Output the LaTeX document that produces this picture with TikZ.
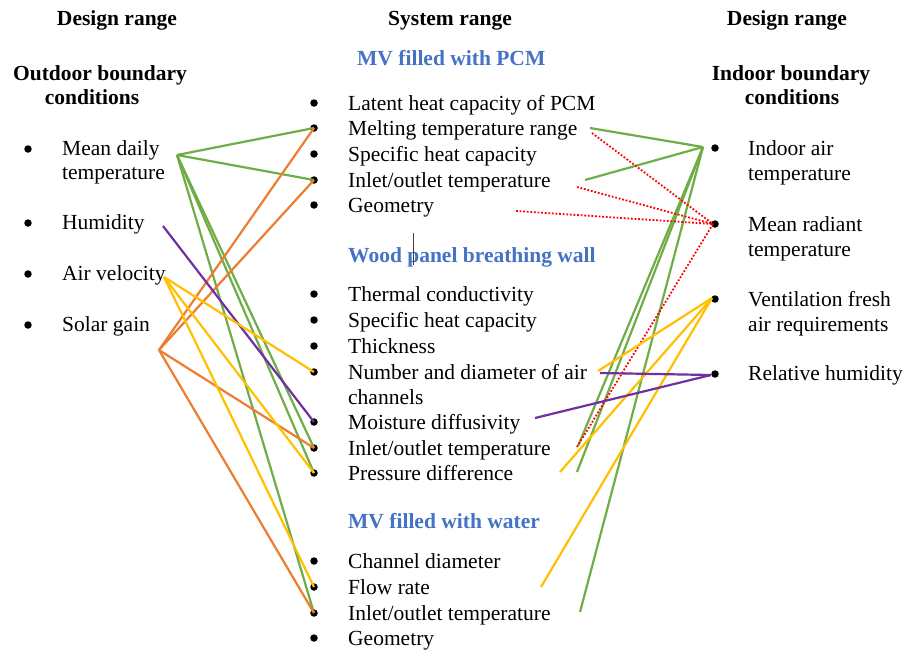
\documentclass[tikz,border=0pt]{standalone}
\usepackage{fontspec}
\setmainfont{Liberation Serif}
\usetikzlibrary{positioning}
\definecolor{lgreen}{HTML}{70AD47}
\definecolor{lorange}{HTML}{ED7D31}
\definecolor{lyellow}{HTML}{FFC000}
\definecolor{lpurple}{HTML}{7030A0}
\definecolor{lred}{HTML}{FF0000}
\definecolor{lblue}{HTML}{4472C4}

\begin{document}
\begin{tikzpicture}[x=1pt, y=-1pt,
  txt/.style={anchor=base west, inner sep=0pt, font=\fontsize{21.5}{25.5}\selectfont},
  hdr/.style={anchor=base, inner sep=0pt, font=\fontsize{21.5}{25.5}\selectfont\bfseries},
  sub/.style={anchor=base west, inner sep=0pt, text=lblue, font=\fontsize{21.5}{25.5}\selectfont\bfseries},
  dot/.style={circle, fill=black, inner sep=0pt, minimum size=7.5pt},
  lnk/.style={line width=2.2pt},
  dotlnk/.style={line width=1.8pt, lred, dash pattern=on 1.8pt off 1.8pt}]
  \useasboundingbox (0,0) rectangle (908,649);
  % headers
  \node[hdr] (ldes) at (117,25) {Design range};
  \node[hdr] (lout1) at (100,80) {Outdoor boundary};
  \node[hdr] (lout2) at (92,104) {conditions};
  \node[hdr] (msys) at (450,25) {System range};
  \node[hdr] (rdes) at (787,25) {Design range};
  \node[hdr] (rin1) at (791,80) {Indoor boundary};
  \node[hdr] (rin2) at (792,104) {conditions};
  \node[sub] (hpcm) at (357,65) {MV filled with PCM};
  \node[sub] (hwood) at (348,262) {Wood panel breathing wall};
  \node[sub] (hwat) at (348,528) {MV filled with water};
  \draw[black!75, line width=0.6pt] (413,233) -- (413,265);
  % outdoor conditions
  \foreach \i/\y/\t in {1/149/Mean daily, 2/223/Humidity, 3/274/Air velocity, 4/325/Solar gain}{
    \node[dot] (lb\i) at (28,\y) {};
    \node[txt] (lt\i) at (62,\y+6) {\t};
  }
  \node[txt] (lt1b) at (62,179) {temperature};
  % system: PCM, wood wall, water
  \foreach \i/\y/\t in {1/103/Latent heat capacity of PCM, 2/128/Melting temperature range,
    3/154/Specific heat capacity, 4/180/{Inlet/outlet temperature}, 5/205/Geometry}{
    \node[dot] (pcm\i) at (314,\y) {};
    \node[txt] (pcmt\i) at (348,\y+7) {\t};
  }
  \foreach \i/\y/\t in {1/294/Thermal conductivity, 2/320/Specific heat capacity, 3/346/Thickness,
    4/372/Number and diameter of air, 5/422/Moisture diffusivity, 6/448/{Inlet/outlet temperature},
    7/473/Pressure difference}{
    \node[dot] (wood\i) at (314,\y) {};
    \node[txt] (woodt\i) at (348,\y+7) {\t};
  }
  \node[txt] (woodt4b) at (348,404) {channels};
  \foreach \i/\y/\t in {1/561/Channel diameter, 2/587/Flow rate, 3/613/{Inlet/outlet temperature}, 4/638/Geometry}{
    \node[dot] (wat\i) at (314,\y) {};
    \node[txt] (watt\i) at (348,\y+7) {\t};
  }
  % indoor conditions
  \foreach \i/\y/\a/\b in {1/148/Indoor air/temperature, 2/224/Mean radiant/temperature,
    3/299/Ventilation fresh/air requirements}{
    \node[dot] (rb\i) at (715,\y) {};
    \node[txt] (rt\i) at (748,\y+7) {\a};
    \node[txt] (rt\i b) at (748,\y+32) {\b};
  }
  \node[dot] (rb4) at (715,374) {};
  \node[txt] (rt4) at (748,380) {Relative humidity};
  % link ends
  \coordinate (mdt) at (177,155);
  \coordinate (hum) at (163,226);
  \coordinate (air) at (164,277);
  \coordinate (sol) at (159,350);
  \coordinate (iat) at (703,147);
  \coordinate (mrt) at (713,224);
  \coordinate (vfa) at (712,298);
  \coordinate (rhu) at (711,375);
  \coordinate (mtrG) at (590,128);
  \coordinate (mtrR) at (592,133);
  \coordinate (pioG) at (585,180);
  \coordinate (pioR) at (577,187);
  \coordinate (geoR) at (516,211);
  \coordinate (ndaY) at (598,371);
  \coordinate (ndaP) at (600,373);
  \coordinate (mdfP) at (535,418);
  \coordinate (wioR) at (577,447);
  \coordinate (wioG) at (578,446);
  \coordinate (pdfY) at (560,472);
  \coordinate (pdfG) at (577,472);
  \coordinate (flrY) at (541,587);
  \coordinate (xioG) at (580,612);
  % outdoor -> system
  \foreach \e in {pcm2,pcm4,wood6,wood7,wat3} \draw[lnk, lgreen] (mdt) -- (\e.center);
  \foreach \e in {pcm2,pcm4,wood6,wat3} \draw[lnk, lorange] (sol) -- (\e.center);
  \draw[lnk, lpurple] (hum) -- (wood5.center);
  \foreach \e in {wood4,wood7,wat2} \draw[lnk, lyellow] (air) -- (\e.center);
  % system -> indoor
  \foreach \e in {mtrG,pioG,wioG,pdfG,xioG} \draw[lnk, lgreen] (\e) -- (iat);
  \foreach \e in {mtrR,pioR,geoR,wioR} \draw[dotlnk] (\e) -- (mrt);
  \foreach \e in {ndaY,pdfY,flrY} \draw[lnk, lyellow] (\e) -- (vfa);
  \foreach \e in {ndaP,mdfP} \draw[lnk, lpurple] (\e) -- (rhu);
\end{tikzpicture}
\end{document}
